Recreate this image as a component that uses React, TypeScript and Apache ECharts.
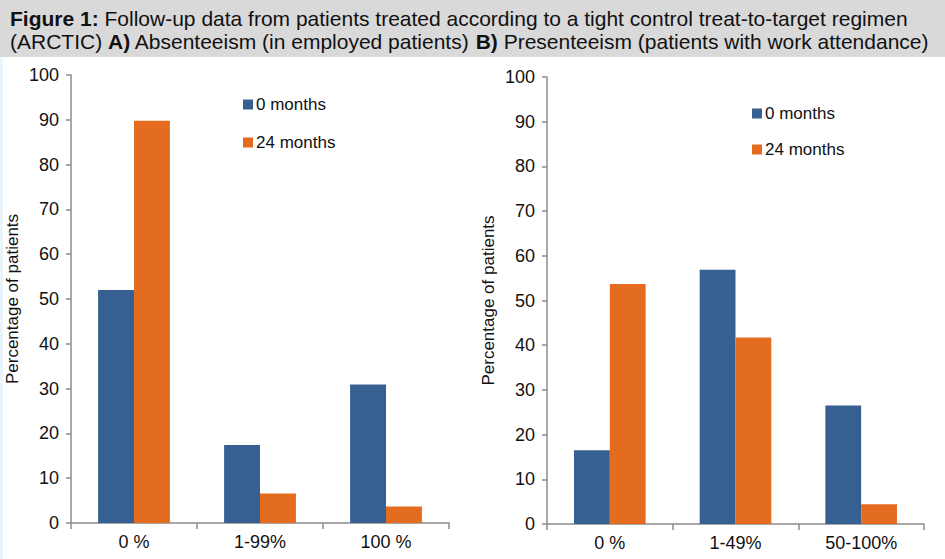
import React, { useEffect, useRef } from "react";
import * as echarts from "echarts";

const seriesNames = ["0 months", "24 months"];
const categoriesA = ["0 %", "1-99%", "100 %"];
const absenteeism0 = [52, 17.4, 30.9];
const absenteeism24 = [89.8, 6.6, 3.7];
const categoriesB = ["0 %", "1-49%", "50-100%"];
const presenteeism0 = [16.5, 56.9, 26.5];
const presenteeism24 = [53.7, 41.7, 4.4];
const yTicks = { min: 0, max: 100, interval: 10 };
const yAxisName = "Percentage of patients";
const titleLine1 = "{b|Figure 1:} Follow-up data from patients treated according to a tight control treat-to-target regimen";
const titleLine2 = "(ARCTIC) {b|A)} Absenteeism (in employed patients) {b|B)} Presenteeism (patients with work attendance)";

const BLUE = "#366092";
const ORANGE = "#e46c1f";
const AXIS = "#8c8c8c";
const FONT = "'Liberation Sans', Arial, sans-serif";

export default function App() {
  const ref = useRef<HTMLDivElement>(null);
  useEffect(() => {
    document.body.style.margin = "0";
    const chart = echarts.init(ref.current!, null, { renderer: "svg" });
    const xAxisCommon = (cats: string[], gridIndex: number) => ({
      type: "category",
      data: cats,
      gridIndex,
      axisLine: { lineStyle: { color: AXIS, width: 1.5 } },
      axisTick: { show: true, length: 6, lineStyle: { color: AXIS, width: 1.5 } },
      axisLabel: { color: "#111", fontSize: 18, fontFamily: FONT, margin: 10 },
    });
    const yAxisCommon = (gridIndex: number) => ({
      type: "value",
      gridIndex,
      min: yTicks.min,
      max: yTicks.max,
      interval: yTicks.interval,
      name: yAxisName,
      nameLocation: "middle",
      nameGap: 50,
      nameTextStyle: { color: "#111", fontSize: 17, fontFamily: FONT },
      axisLine: { show: true, lineStyle: { color: AXIS, width: 1.5 } },
      axisTick: { show: true, length: 5, lineStyle: { color: AXIS, width: 1.5 } },
      axisLabel: { color: "#111", fontSize: 18, fontFamily: FONT, margin: 12 },
      splitLine: { show: false },
    });
    const barCommon = { type: "bar", barGap: "0%", barCategoryGap: "43%" };
    const titleFont = "21px 'Liberation Sans', Arial, sans-serif";
    chart.setOption({
      animation: false,
      backgroundColor: "#ffffff",
      color: [BLUE, ORANGE],
      graphic: [
        { type: "rect", left: 0, top: 0, shape: { width: 945, height: 57 }, style: { fill: "#d9d9d9" }, z: -1 },
        { type: "rect", left: 0, top: 57, shape: { width: 3, height: 502 }, style: { fill: "#eaf4fb" }, z: -1 },
        {
          type: "text",
          left: 10,
          top: 8,
          style: {
            text: titleLine1,
            fill: "#111",
            font: titleFont,
            rich: { b: { fontWeight: "bold", fontSize: 21, fontFamily: FONT } },
          },
        },
        {
          type: "text",
          left: 10,
          top: 31,
          style: {
            text: titleLine2,
            fill: "#111",
            font: titleFont,
            rich: { b: { fontWeight: "bold", fontSize: 21, fontFamily: FONT } },
          },
        },
      ],
      legend: [
        {
          data: seriesNames,
          orient: "vertical",
          left: 238,
          top: 91,
          itemWidth: 10,
          itemHeight: 10,
          itemGap: 21,
          icon: "rect",
          textStyle: { color: "#111", fontSize: 17, fontFamily: FONT, padding: [0, 0, 0, -2] },
        },
        {
          data: seriesNames,
          orient: "vertical",
          left: 747,
          top: 100,
          itemWidth: 10,
          itemHeight: 10,
          itemGap: 19,
          icon: "rect",
          textStyle: { color: "#111", fontSize: 17, fontFamily: FONT, padding: [0, 0, 0, -2] },
        },
      ],
      grid: [
        { left: 71, top: 75, width: 378, height: 448 },
        { left: 547, top: 77, width: 377, height: 447 },
      ],
      xAxis: [xAxisCommon(categoriesA, 0), xAxisCommon(categoriesB, 1)],
      yAxis: [yAxisCommon(0), yAxisCommon(1)],
      series: [
        { ...barCommon, name: seriesNames[0], xAxisIndex: 0, yAxisIndex: 0, data: absenteeism0 },
        { ...barCommon, name: seriesNames[1], xAxisIndex: 0, yAxisIndex: 0, data: absenteeism24 },
        { ...barCommon, name: seriesNames[0], xAxisIndex: 1, yAxisIndex: 1, data: presenteeism0 },
        { ...barCommon, name: seriesNames[1], xAxisIndex: 1, yAxisIndex: 1, data: presenteeism24 },
      ],
    });
    return () => chart.dispose();
  }, []);
  return <div ref={ref} style={{ width: 945, height: 559 }} />;
}
